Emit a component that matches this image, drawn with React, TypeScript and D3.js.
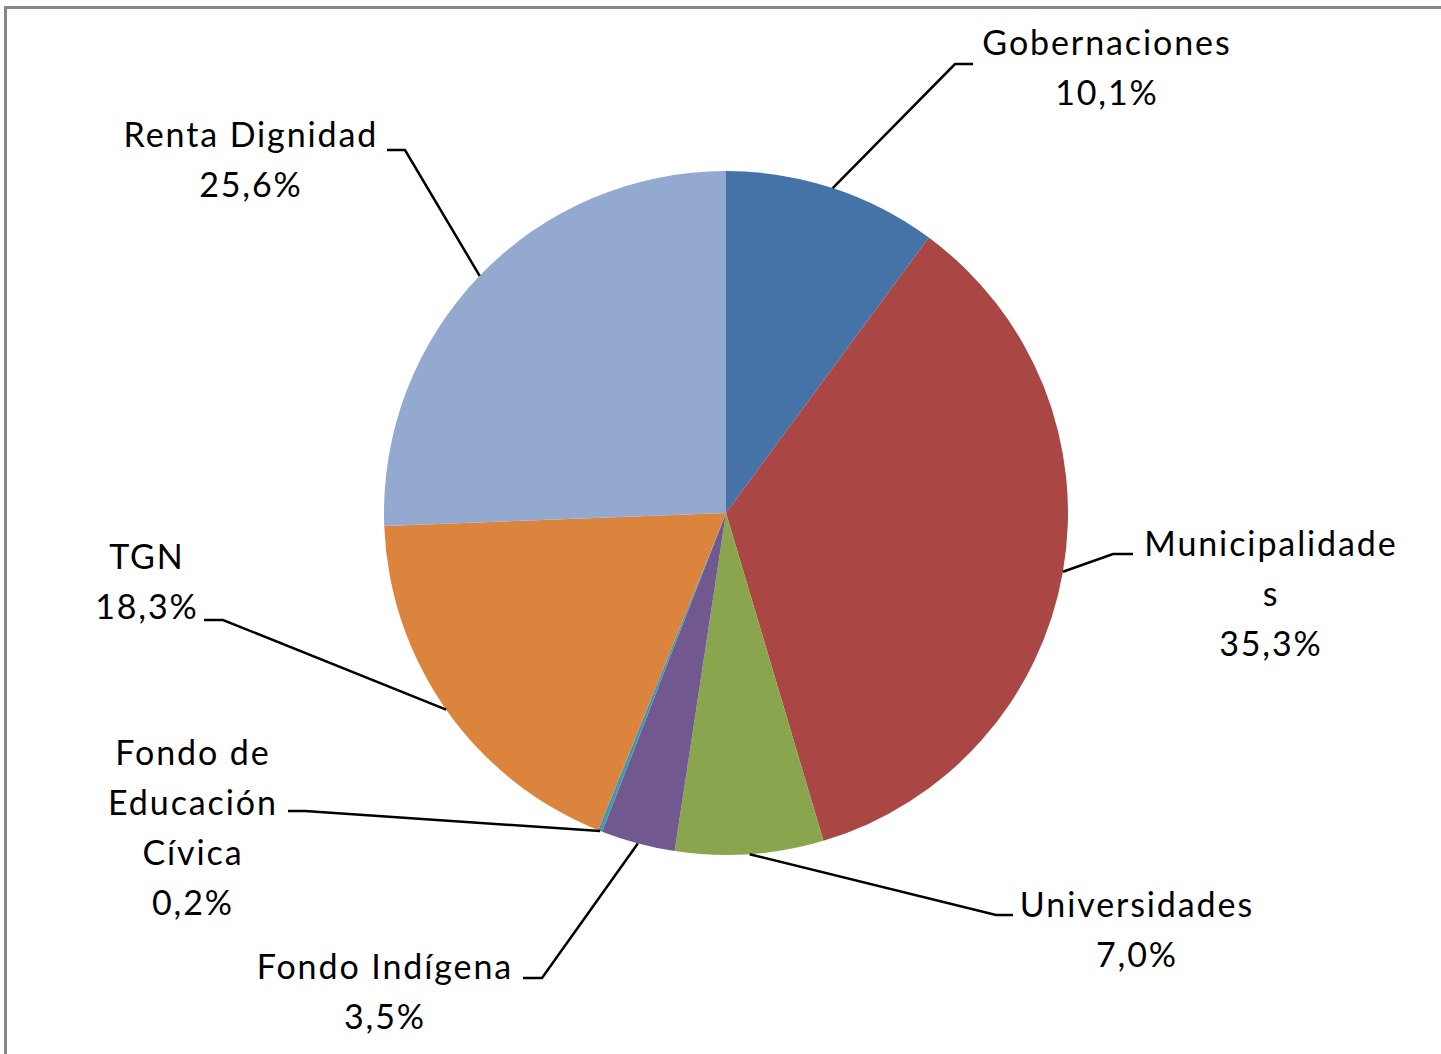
import React from "react";
import * as d3 from "d3";

const categories = [
  "Gobernaciones",
  "Municipalidades",
  "Universidades",
  "Fondo Indígena",
  "Fondo de Educación Cívica",
  "TGN",
  "Renta Dignidad",
];
const values = [10.1, 35.3, 7.0, 3.5, 0.2, 18.3, 25.6];
const valueLabels = ["10,1%", "35,3%", "7,0%", "3,5%", "0,2%", "18,3%", "25,6%"];
const nameLines = [
  ["Gobernaciones"],
  ["Municipalidade", "s"],
  ["Universidades"],
  ["Fondo Indígena"],
  ["Fondo de", "Educación", "Cívica"],
  ["TGN"],
  ["Renta Dignidad"],
];
const colors = ["#4572A7", "#AA4643", "#89A54E", "#71588F", "#4198AF", "#DB843D", "#93A9CF"];

// label layout: text centre x, first baseline y, elbow (where leader meets horizontal), horizontal end x
const labelLayout = [
  { tx: 1106, ty: 55, ex: 955, ey: 64, hx: 973 },
  { tx: 1270, ty: 556, ex: 1113, ey: 554, hx: 1133 },
  { tx: 1136, ty: 917, ex: 996, ey: 915, hx: 1013 },
  { tx: 384, ty: 979, ex: 542, ey: 978, hx: 523 },
  { tx: 192, ty: 765, ex: 305, ey: 811, hx: 288 },
  { tx: 146, ty: 569, ex: 223, ey: 620, hx: 204 },
  { tx: 250, ty: 147, ex: 405, ey: 150, hx: 387 },
];

const W = 1441;
const H = 1054;
const cx = 726;
const cy = 513;
const R = 342;
const lineGap = 50;
const fontSize = 34;
const spacing = 1.9;

export default function App() {
  const pie = d3.pie<number>().sort(null).value((d) => d)(values);
  const arc = d3.arc<d3.PieArcDatum<number>>().innerRadius(0).outerRadius(R);
  return (
    <svg
      width={W}
      height={H}
      style={{ position: "absolute", left: 0, top: 0, background: "#fff" }}
      fontFamily="Lato, 'Open Sans', sans-serif"
    >
      <rect x={5.5} y={7.5} width={W + 20} height={H + 20} fill="#fff" stroke="#878787" strokeWidth={3} />
      <g transform={`translate(${cx},${cy})`}>
        {pie.map((p, i) => (
          <path key={categories[i]} d={arc(p) || ""} fill={colors[i]} />
        ))}
      </g>
      {pie.map((p, i) => {
        const mid = (p.startAngle + p.endAngle) / 2;
        const sx = cx + R * Math.sin(mid);
        const sy = cy - R * Math.cos(mid);
        const L = labelLayout[i];
        const lines = [...nameLines[i], valueLabels[i]];
        return (
          <g key={"l" + i}>
            <polyline
              points={`${sx},${sy} ${L.ex},${L.ey} ${L.hx},${L.ey}`}
              fill="none"
              stroke="#000"
              strokeWidth={2.5}
            />
            {lines.map((t, j) => (
              <text
                key={j}
                x={L.tx + spacing / 2}
                y={L.ty + j * lineGap}
                textAnchor="middle"
                fontSize={fontSize}
                letterSpacing={spacing}
                fill="#000"
              >
                {t}
              </text>
            ))}
          </g>
        );
      })}
    </svg>
  );
}
